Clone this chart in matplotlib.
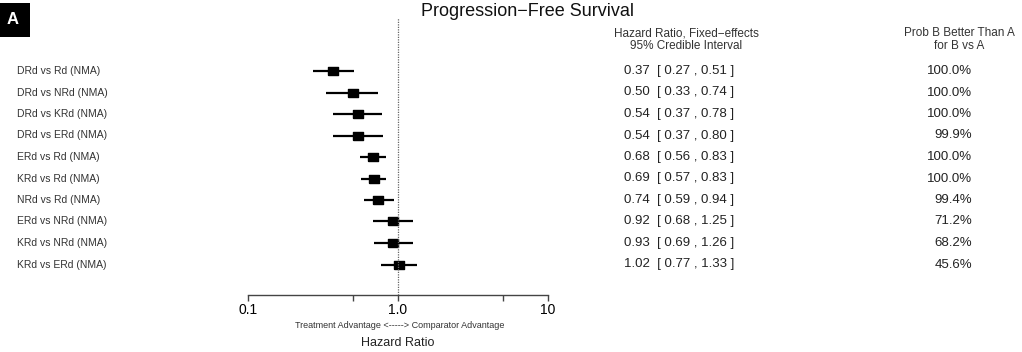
import matplotlib
matplotlib.use("Agg")
import matplotlib.pyplot as plt
from matplotlib.transforms import blended_transform_factory
from matplotlib.patches import Rectangle

plt.rcParams['font.family'] = ['Liberation Sans', 'DejaVu Sans']

comparisons = ["DRd vs Rd (NMA)", "DRd vs NRd (NMA)", "DRd vs KRd (NMA)", "DRd vs ERd (NMA)",
               "ERd vs Rd (NMA)", "KRd vs Rd (NMA)", "NRd vs Rd (NMA)", "ERd vs NRd (NMA)",
               "KRd vs NRd (NMA)", "KRd vs ERd (NMA)"]
hr = [0.37, 0.50, 0.54, 0.54, 0.68, 0.69, 0.74, 0.92, 0.93, 1.02]
lower = [0.27, 0.33, 0.37, 0.37, 0.56, 0.57, 0.59, 0.68, 0.69, 0.77]
upper = [0.51, 0.74, 0.78, 0.80, 0.83, 0.83, 0.94, 1.25, 1.26, 1.33]
prob = ["100.0%", "100.0%", "100.0%", "99.9%", "100.0%", "100.0%", "99.4%", "71.2%", "68.2%", "45.6%"]
xticks = [0.1, 0.5, 1.0, 5, 10]
xticklabels = ["0.1", "", "1.0", "", "10"]

W, H = 1022, 352
fig = plt.figure(figsize=(W / 100, H / 100), dpi=100)

def fx(px):
    return px / W

def fy(py):
    return 1 - py / H

# axes: x from 248 to 548 px, y from 18 to 295 px
ax = fig.add_axes([fx(248), fy(295), fx(548) - fx(248), fy(18) - fy(295)])
ax.set_xscale('log')
ax.set_xlim(0.1, 10)
row_top, row_step = 71, 21.5
ax.set_ylim((295 - row_top) / row_step, (18 - row_top) / row_step)

ys = list(range(len(hr)))
for y, h, lo, up in zip(ys, hr, lower, upper):
    ax.plot([lo, up], [y, y], color='black', lw=1.6, solid_capstyle='butt')
rect = [(-1.25, -1), (1.25, -1), (1.25, 1), (-1.25, 1), (-1.25, -1)]
ax.plot(hr, ys, ls='none', marker=rect, color='black', markersize=7)
ax.axvline(1.0, color='#666666', lw=0.9, ls=(0, (1, 1)))

for s in ['top', 'right', 'left']:
    ax.spines[s].set_visible(False)
ax.spines['bottom'].set_color('#444444')
ax.spines['bottom'].set_linewidth(1.0)
ax.set_yticks([])
ax.set_xticks(xticks)
ax.set_xticklabels(xticklabels, fontsize=10)
ax.minorticks_off()
ax.tick_params(axis='x', direction='out', length=4, width=1.0, color='#444444', pad=1.5)

trans = blended_transform_factory(fig.transFigure, ax.transData)
for y, name, h, lo, up, p in zip(ys, comparisons, hr, lower, upper, prob):
    fig.text(fx(17), 0, name, transform=trans, fontsize=7.5, va='center', ha='left', color='#333333').set_y(y)
    fig.text(fx(624), 0, f"{h:.2f}  [ {lo:.2f} , {up:.2f} ]", transform=trans,
             fontsize=9.5, va='center', ha='left', color='#222222').set_y(y)
    fig.text(fx(972), 0, p, transform=trans, fontsize=9.5, va='center', ha='right', color='#222222').set_y(y)

fig.text(fx(527), fy(11), "Progression\u2212Free Survival", fontsize=13, ha='center', va='center', color='#111111')
fig.text(fx(686), fy(33), "Hazard Ratio, Fixed\u2212effects", fontsize=8.5, ha='center', va='center', color='#333333')
fig.text(fx(686), fy(46), "95% Credible Interval", fontsize=8.5, ha='center', va='center', color='#333333')
fig.text(fx(959), fy(33), "Prob B Better Than A", fontsize=8.5, ha='center', va='center', color='#333333')
fig.text(fx(959), fy(46), "for B vs A", fontsize=8.5, ha='center', va='center', color='#333333')
fig.text(fx(400), fy(326), "Treatment Advantage <-----> Comparator Advantage", fontsize=6.5,
         ha='center', va='center', color='#333333')
fig.text(fx(398), fy(343), "Hazard Ratio", fontsize=9, ha='center', va='center', color='#222222')

fig.patches.append(Rectangle((0, fy(37)), fx(30), fy(3) - fy(37), transform=fig.transFigure,
                             facecolor='black', edgecolor='none'))
fig.text(fx(13), fy(20), "A", fontsize=12, fontweight='bold', color='white', ha='center', va='center')

fig.savefig("out.png", dpi=100)
